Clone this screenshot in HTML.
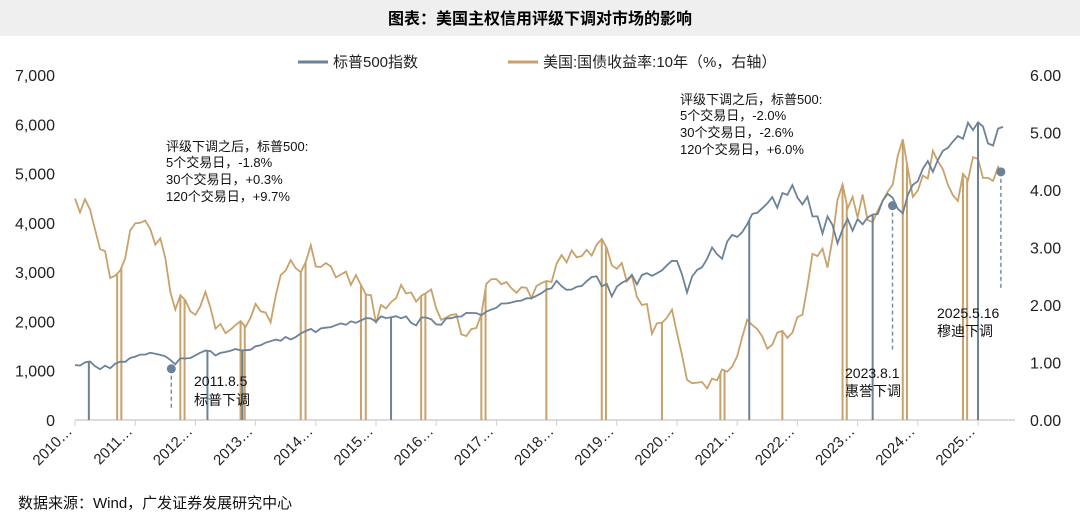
<!DOCTYPE html>
<html><head><meta charset="utf-8"><style>
body{margin:0;background:#fff;}
svg text{font-family:"Liberation Sans","Noto Sans CJK SC",sans-serif;}
</style></head><body>
<svg id="c" width="1080" height="522" xmlns="http://www.w3.org/2000/svg">
<rect x="0" y="0" width="1080" height="36" fill="#efefef"/>
<text x="540" y="24" text-anchor="middle" font-size="16" font-weight="bold" fill="#000">图表：美国主权信用评级下调对市场的影响</text>
<g>
<line x1="298" y1="62" x2="328" y2="62" stroke="#6b8299" stroke-width="3"/>
<text x="333" y="67" font-size="15" fill="#222">标普500指数</text>
<line x1="508" y1="62" x2="538" y2="62" stroke="#c8a26b" stroke-width="3"/>
<text x="543" y="67" font-size="15" fill="#222">美国:国债收益率:10年（%，右轴）</text>
</g>
<g id="axes"></g>
<g id="series"></g>
<g font-size="13" fill="#111">
<text x="166" y="151">评级下调之后，标普500:</text>
<text x="166" y="167">5个交易日，-1.8%</text>
<text x="166" y="184">30个交易日，+0.3%</text>
<text x="166" y="201">120个交易日，+9.7%</text>
<text x="680" y="104">评级下调之后，标普500:</text>
<text x="680" y="120">5个交易日，-2.0%</text>
<text x="680" y="137">30个交易日，-2.6%</text>
<text x="680" y="154">120个交易日，+6.0%</text>
<g font-size="14"><text x="194" y="386">2011.8.5</text><text x="194" y="405">标普下调</text>
<text x="845" y="378">2023.8.1</text><text x="845" y="396">惠誉下调</text>
<text x="937" y="318">2025.5.16</text><text x="937" y="336">穆迪下调</text></g>
</g>
<text x="18" y="508" font-size="15" fill="#111">数据来源：Wind，广发证券发展研究中心</text>
</svg>
<script>
const spx=[1115,1104,1169,1187,1089,1031,1102,1049,1141,1183,1181,1258,
1286,1327,1326,1364,1345,1321,1292,1219,1131,1253,1247,1258,
1312,1366,1408,1398,1310,1362,1379,1406,1441,1412,1416,1426,
1498,1515,1569,1598,1631,1606,1686,1633,1682,1757,1806,1848,
1783,1859,1872,1884,1924,1960,1931,2003,1972,2018,2068,2059,
1995,2105,2068,2086,2107,2063,2104,1972,1920,2079,2080,2044,
1940,1932,2060,2065,2097,2099,2174,2171,2168,2126,2199,2239,
2279,2364,2363,2384,2412,2423,2470,2472,2519,2575,2648,2674,
2824,2714,2641,2648,2705,2718,2816,2902,2914,2712,2760,2507,
2704,2784,2834,2946,2752,2942,2980,2926,2977,3038,3141,3231,
3226,2954,2585,2912,3044,3100,3271,3500,3363,3270,3622,3756,
3714,3811,3973,4181,4204,4298,4395,4523,4308,4605,4567,4766,
4516,4374,4530,4132,4132,3785,4130,3955,3586,3872,4080,3840,
4077,3970,4109,4169,4180,4450,4589,4508,4288,4194,4568,4770,
4846,5096,5254,5036,5278,5460,5522,5648,5762,5705,6032,5882,
6041,5955,5612,5569,5912,5950];
const ust=[3.85,3.61,3.84,3.66,3.31,2.97,2.94,2.47,2.51,2.60,2.81,3.30,
3.42,3.43,3.47,3.32,3.05,3.16,2.82,2.23,1.92,2.17,2.08,1.89,
1.83,1.98,2.23,1.95,1.59,1.67,1.51,1.57,1.65,1.72,1.62,1.78,
2.02,1.89,1.87,1.70,2.16,2.52,2.60,2.78,2.64,2.57,2.75,3.04,
2.67,2.66,2.73,2.67,2.48,2.53,2.58,2.35,2.52,2.35,2.18,2.17,
1.68,2.00,1.94,2.05,2.12,2.35,2.20,2.22,2.06,2.16,2.21,2.27,
1.94,1.74,1.78,1.83,1.84,1.49,1.46,1.58,1.60,1.84,2.37,2.45,
2.45,2.36,2.40,2.29,2.21,2.31,2.30,2.12,2.33,2.38,2.42,2.40,
2.72,2.87,2.74,2.95,2.83,2.85,2.96,2.86,3.05,3.15,2.99,2.69,
2.63,2.73,2.41,2.51,2.14,2.00,2.02,1.50,1.68,1.69,1.78,1.92,
1.51,1.13,0.70,0.64,0.65,0.66,0.55,0.72,0.69,0.88,0.84,0.93,
1.11,1.44,1.74,1.65,1.58,1.45,1.24,1.31,1.52,1.55,1.43,1.52,
1.79,1.83,2.32,2.89,2.85,2.98,2.65,3.15,3.83,4.10,3.68,3.88,
3.52,3.92,3.48,3.44,3.64,3.81,3.97,4.09,4.59,4.88,4.37,3.88,
3.99,4.25,4.20,4.68,4.50,4.36,4.09,3.91,3.81,4.28,4.17,4.57,
4.54,4.21,4.21,4.16,4.40,4.25];
const spxGaps=[2010.23,2012.2,2012.78,2015.25,2021.2,2023.25,2025.0];
const ustGaps=[2010.7,2010.77,2011.75,2011.82,2012.75,2012.82,2013.75,2013.83,2014.75,2014.83,2015.75,2015.82,2016.75,2016.82,2017.83,2018.75,2018.82,2019.75,2020.72,2020.79,2021.75,2022.75,2022.82,2023.75,2023.82,2024.75,2024.82];
const events=[2011.6,2023.58,2025.38];
const leftTicks=[0,1000,2000,3000,4000,5000,6000,7000];
const rightTicks=[0,1,2,3,4,5,6];
const years=[2010,2011,2012,2013,2014,2015,2016,2017,2018,2019,2020,2021,2022,2023,2024,2025];

const NS='http://www.w3.org/2000/svg';
const X=t=>75+(t-2010)*60.2;
const YL=v=>420-v*(345/7000);
const YR=v=>420-v*(345/6);
const tOf=i=>2010+i/12;
function mk(tag,attrs,parent){const e=document.createElementNS(NS,tag);for(const k in attrs)e.setAttribute(k,attrs[k]);parent.appendChild(e);return e;}
function interp(arr,t){const f=(t-2010)*12;const i=Math.max(0,Math.min(arr.length-2,Math.floor(f)));const r=f-i;return arr[i]*(1-r)+arr[i+1]*r;}
const ax=document.getElementById('axes'),se=document.getElementById('series');
mk('line',{x1:75,y1:420,x2:1015,y2:420,stroke:'#cfcfcf','stroke-width':1.5},ax);
leftTicks.forEach(v=>{const t=mk('text',{x:55,y:YL(v)+6,'text-anchor':'end','font-size':16,fill:'#222'},ax);t.textContent=v.toLocaleString('en-US');

});
rightTicks.forEach(v=>{const t=mk('text',{x:1030,y:YR(v)+6,'font-size':16,fill:'#222'},ax);t.textContent=v.toFixed(2);

});
years.forEach(y=>{const x=X(y);mk('line',{x1:x,y1:420,x2:x,y2:426,stroke:'#cfcfcf'},ax);
const t=mk('text',{x:x-2,y:432,'text-anchor':'end','font-size':15,fill:'#222',transform:`rotate(-45 ${x-2} 432)`},ax);t.textContent=y+'…';

});
function line(arr,Y,col,name){let d='';arr.forEach((v,i)=>{d+=(i?'L':'M')+X(tOf(i)).toFixed(1)+','+Y(v).toFixed(1);});
const p=mk('path',{d:d,fill:'none',stroke:col,'stroke-width':1.8},se);

}
function gaps(g,arr,Y,col){g.forEach(t=>{const l=mk('line',{x1:X(t),y1:Y(interp(arr,t)),x2:X(t),y2:420,stroke:col,'stroke-width':2},se);

});}
line(ust,YR,'#c8a26b','us10y-line');
gaps(ustGaps,ust,YR,'#c8a26b');
line(spx,YL,'#6b8299','sp500-line');
gaps(spxGaps,spx,YL,'#6b8299');
events.forEach((t,k)=>{const x=X(t),y=(k==2?YR(interp(ust,t)):YL(interp(spx,t))+8);
mk('line',{x1:x,y1:y,x2:x,y2:[410,350,290][k],stroke:'#7a8ea3','stroke-width':1.5,'stroke-dasharray':'4,3'},se);
const c=mk('circle',{cx:x,cy:y,r:4.5,fill:'#6b8299'},se);

});
</script>
</body></html>
